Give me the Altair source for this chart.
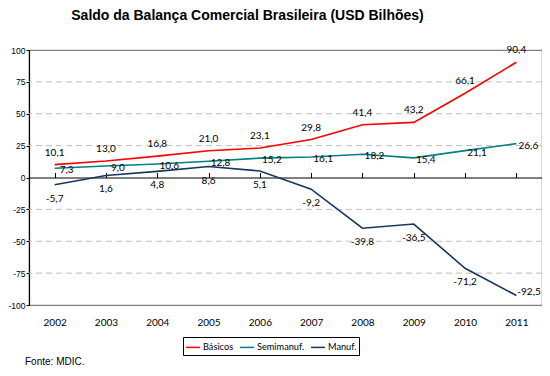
import altair as alt
import pandas as pd

years = ["2002", "2003", "2004", "2005", "2006", "2007", "2008", "2009", "2010", "2011"]
basicos = [10.1, 13.0, 16.8, 21.0, 23.1, 29.8, 41.4, 43.2, 66.1, 90.4]
semimanuf = [7.3, 9.0, 10.6, 12.8, 15.2, 16.1, 18.2, 15.4, 21.1, 26.6]
manuf = [-5.7, 1.6, 4.8, 8.6, 5.1, -9.2, -39.8, -36.5, -71.2, -92.5]
series = ["Básicos", "Semimanuf.", "Manuf."]
colors = ["#FF0000", "#008080", "#17375E"]
y_ticks = [100, 75, 50, 25, 0, -25, -50, -75, -100]

rows = []
for name, vals in zip(series, [basicos, semimanuf, manuf]):
    for yr, v in zip(years, vals):
        rows.append({"ano": yr, "serie": name, "valor": v})
df = pd.DataFrame(rows)

W, H = 513, 255
LABEL_FONT = "Lato"

xscale = alt.Scale(domain=years, paddingInner=0, paddingOuter=0)
yscale = alt.Scale(domain=[-100, 100], nice=False, zero=False)
yaxis = alt.Axis(
    title=None, values=y_ticks, labelExpr="'' + datum.value", grid=False,
    domainColor="#000000", domainWidth=1.2, tickColor="#000000", tickSize=3,
    labelFont="Liberation Sans", labelFontSize=8.5, labelColor="#000000",
    labelPadding=1)

base = alt.Chart(df).transform_calculate(
    rotulo="(datum.valor < 0 ? '-' : '') + replace(format(abs(datum.valor), '.1f'), '.', ',')"
)

# grid lines (dashed) except 0 and +-100
grid = alt.Chart(pd.DataFrame({"valor": [75, 50, 25, -25, -50, -75]})).mark_rule(
    color="#BDBDBD", strokeDash=[6, 4], strokeWidth=1
).encode(y=alt.Y("valor:Q", scale=yscale, axis=yaxis))

# x axis at the bottom: labels only
xlabels = alt.Chart(df).mark_point(opacity=0).encode(
    x=alt.X("ano:N", scale=xscale, axis=alt.Axis(
        title=None, labelAngle=0, ticks=False, domain=False, labelPadding=12,
        labelFont=LABEL_FONT, labelFontSize=10, labelColor="#000000")),
    y=alt.Y("valor:Q", scale=yscale, axis=yaxis),
)

# x axis at zero: line with ticks at category boundaries
xzero = alt.Chart(df).mark_point(opacity=0).encode(
    x=alt.X("ano:N", scale=xscale, axis=alt.Axis(
        title=None, labels=False, ticks=True, tickSize=5, tickColor="#000000",
        domain=True, domainColor="#000000", domainWidth=1.2, bandPosition=0,
        offset=-(H / 2))),
    y=alt.Y("valor:Q", scale=yscale, axis=yaxis),
)

lines = base.mark_line(strokeWidth=1.6).encode(
    x=alt.X("ano:N", scale=xscale, axis=None),
    y=alt.Y("valor:Q", scale=yscale, axis=yaxis),
    color=alt.Color("serie:N", scale=alt.Scale(domain=series, range=colors),
                    sort=series,
                    legend=alt.Legend(
                        title=None, orient="none", legendX=154, legendY=287,
                        direction="horizontal", symbolType="stroke",
                        symbolSize=200, symbolStrokeWidth=1.5,
                        labelFont=LABEL_FONT, labelFontSize=9.2, labelColor="#000000",
                        strokeColor="#000000", padding=2,
                        labelOffset=2)),
    order=alt.value(0),
)

txt_common = dict(font=LABEL_FONT, fontSize=10, color="#000000")

lab_bas = base.transform_filter("datum.serie == 'Básicos'").mark_text(
    dy=-12, **txt_common).encode(
    x=alt.X("ano:N", scale=xscale, axis=None),
    y=alt.Y("valor:Q", scale=yscale, axis=yaxis), text="rotulo:N")

lab_semi = base.transform_filter("datum.serie == 'Semimanuf.'").mark_text(
    dx=12, dy=2, **txt_common).encode(
    x=alt.X("ano:N", scale=xscale, axis=None),
    y=alt.Y("valor:Q", scale=yscale, axis=yaxis), text="rotulo:N")

lab_man = base.transform_filter("datum.serie == 'Manuf.' && datum.ano != '2011'").mark_text(
    dy=14, **txt_common).encode(
    x=alt.X("ano:N", scale=xscale, axis=None),
    y=alt.Y("valor:Q", scale=yscale, axis=yaxis), text="rotulo:N")

lab_man_last = base.transform_filter("datum.serie == 'Manuf.' && datum.ano == '2011'").mark_text(
    dx=1, dy=-3, align="left", **txt_common).encode(
    x=alt.X("ano:N", scale=xscale, axis=None),
    y=alt.Y("valor:Q", scale=yscale, axis=yaxis), text="rotulo:N")

fonte = alt.Chart(pd.DataFrame({"t": ["Fonte: MDIC."]})).mark_text(
    align="left", baseline="alphabetic", font="Liberation Sans", fontSize=10,
    color="#000000").encode(x=alt.value(-4), y=alt.value(315), text="t:N")

chart = alt.layer(
    grid, xlabels, xzero, lines, lab_bas, lab_semi, lab_man, lab_man_last, fonte
).resolve_axis(x="independent").properties(
    width=W, height=H,
    title=alt.TitleParams(
        "Saldo da Balança Comercial Brasileira (USD Bilhões)",
        font="Liberation Sans", fontSize=14, fontWeight="bold", color="#000000",
        anchor="middle", dx=-38, offset=22),
    autosize=alt.AutoSizeParams(type="none"),
    padding={"left": 21, "top": 42, "right": 0, "bottom": 62},
).configure_view(stroke="#808080", strokeWidth=1.2).configure_legend(
    columnPadding=2, symbolOffset=0
)

chart.save("out.html", embed_options={"renderer": "svg", "actions": False})
